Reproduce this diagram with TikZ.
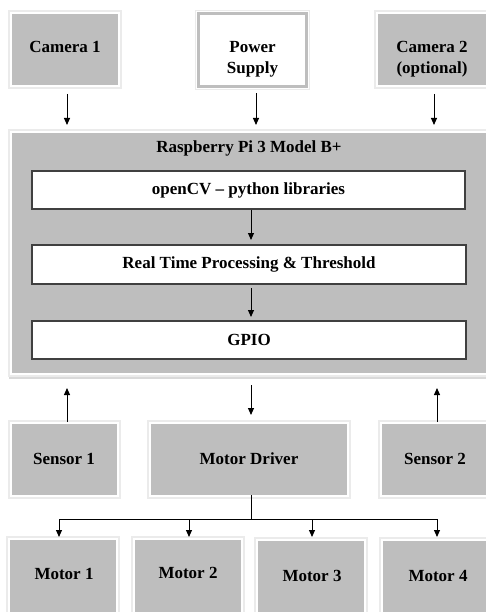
\documentclass[tikz,border=0pt]{standalone}
\usepackage{fontspec}
\setmainfont{Liberation Serif}
\usetikzlibrary{arrows.meta}
\definecolor{boxgray}{HTML}{BEBEBE}
\definecolor{framegray}{HTML}{EBEBEB}
\newcommand\gb[6]{%
  \draw[framegray, line width=1.5pt] (#2-3,#3-3) rectangle (#4+3,#5+3);
  \node[#6, minimum width={(#4-#2)*1pt}, minimum height={(#5-#3)*1pt}] (#1) at ({(#2+#4)/2},{(#3+#5)/2}) {};}
\begin{document}
\begin{tikzpicture}[x=1pt,y=-1pt,
  lbl/.style={font=\fontsize{17}{21}\selectfont\bfseries, inner sep=0pt, anchor=base},
  gbox/.style={fill=boxgray, draw=none, inner sep=0pt, outer sep=0pt},
  pbox/.style={fill=white, draw=boxgray, line width=3pt, inner sep=0pt, outer sep=0pt},
  wbox/.style={fill=white, draw=black!75, line width=1.2pt, inner sep=0pt, outer sep=0pt,
    font=\fontsize{17}{21}\selectfont\bfseries},
  arr/.style={line width=1pt, -{Triangle[length=7pt,width=6pt]}},
  conn/.style={line width=1pt}]
\useasboundingbox (0,0) rectangle (485,612);
\fill[white] (0,0) rectangle (485,612);
% top row
\gb{cam1}{12}{14}{118}{85}{gbox}
\gb{pwr}{198.5}{13.5}{306.5}{86.5}{pbox}
\gb{cam2}{378}{14}{488}{85}{gbox}
\node[lbl] (cam1t) at (65,53) {Camera 1};
\node[lbl] (pwrt) at (252.5,53) {\begin{tabular}[t]{@{}c@{}}Power\\Supply\end{tabular}};
\node[lbl] (cam2t) at (432,53) {\begin{tabular}[t]{@{}c@{}}Camera 2\\(optional)\end{tabular}};
% Raspberry Pi
\gb{pi}{12}{133}{488}{373}{gbox}
\draw[black!15, line width=2pt] (9,378) -- (488,378);
\node[lbl] (pit) at (249,153) {Raspberry Pi 3 Model B+};
\node[wbox, minimum width=433pt, minimum height=38pt] (cv) at (248.5,190) {openCV -- python libraries};
\node[wbox, minimum width=434pt, minimum height=39pt] (rt) at (249,264.5) {Real Time Processing \& Threshold};
\node[wbox, minimum width=434pt, minimum height=38pt] (gpio) at (249,340) {GPIO};
% middle row
\gb{s1}{12}{424}{117}{495}{gbox}
\gb{md}{151}{424}{347}{495}{gbox}
\gb{s2}{382}{424}{488}{495}{gbox}
\node[lbl] (s1t) at (64,464) {Sensor 1};
\node[lbl] (mdt) at (249,464) {Motor Driver};
\node[lbl] (s2t) at (435,464) {Sensor 2};
% motors
\gb{m1}{10}{540}{116}{618}{gbox}
\gb{m2}{135}{540}{241}{618}{gbox}
\gb{m3}{258}{541}{364}{618}{gbox}
\gb{m4}{383}{541}{488}{618}{gbox}
\node[lbl] (m1t) at (64,579) {Motor 1};
\node[lbl] (m2t) at (188,578) {Motor 2};
\node[lbl] (m3t) at (312,581) {Motor 3};
\node[lbl] (m4t) at (438,581) {Motor 4};
% connectors
\draw[arr, shorten <=9pt, shorten >=8pt] ([xshift=2pt]cam1.south) -- ([xshift=2pt]cam1.south |- pi.north);
\draw[arr, shorten <=7pt, shorten >=8pt] ([xshift=3.5pt]pwr.south) -- ([xshift=3.5pt]pwr.south |- pi.north);
\draw[arr, shorten <=9pt, shorten >=8pt] ([xshift=1pt]cam2.south) -- ([xshift=1pt]cam2.south |- pi.north);
\draw[arr, shorten <=1pt, shorten >=5pt] ([xshift=2.5pt]cv.south) -- ([xshift=2.5pt]cv.south |- rt.north);
\draw[arr, shorten <=4pt, shorten >=4pt] ([xshift=2pt]rt.south) -- ([xshift=2pt]rt.south |- gpio.north);
\draw[arr, shorten <=2pt, shorten >=15pt] ([xshift=2.5pt]s1.north) -- ([xshift=2.5pt]s1.north |- pi.south);
\draw[arr, shorten <=12pt, shorten >=9pt] ([xshift=2pt]md.north |- pi.south) -- ([xshift=2pt]md.north);
\draw[arr, shorten <=2pt, shorten >=15pt] ([xshift=2pt]s2.north) -- ([xshift=2pt]s2.north |- pi.south);
\coordinate (bus) at (251,519);
\draw[conn] ([xshift=2pt]md.south) -- (bus);
\draw[arr, shorten >=3pt] (bus) -| ([xshift=-4pt]m1.north);
\draw[arr, shorten >=3pt] (bus) -| ([xshift=1pt]m2.north);
\draw[arr, shorten >=4pt] (bus) -| ([xshift=1pt]m3.north);
\draw[arr, shorten >=4pt] (bus) -| ([xshift=1.5pt]m4.north);
\end{tikzpicture}
\end{document}
